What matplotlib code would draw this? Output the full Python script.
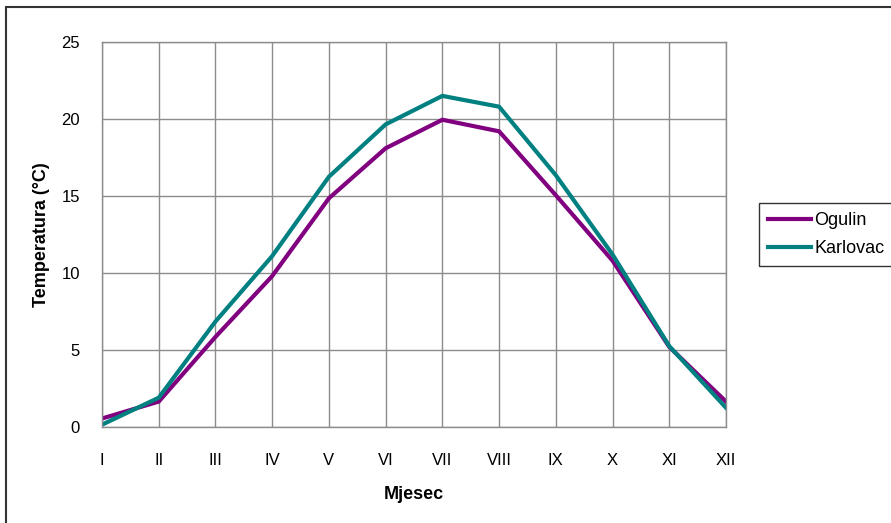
#!/usr/bin/env python3
"""Monthly mean air temperature, Ogulin vs Karlovac."""

import matplotlib
matplotlib.use("Agg")
import matplotlib.pyplot as plt
from matplotlib.patches import Rectangle

months = ["I", "II", "III", "IV", "V", "VI", "VII", "VIII", "IX", "X", "XI", "XII"]
ogulin = [0.55, 1.65, 5.85, 9.8, 14.85, 18.1, 19.95, 19.2, 15.05, 10.8, 5.2, 1.65]
karlovac = [0.15, 1.9, 6.85, 11.1, 16.25, 19.65, 21.5, 20.8, 16.35, 11.2, 5.25, 1.25]
y_ticks = [0, 5, 10, 15, 20, 25]

plt.rcParams["font.family"] = ["Liberation Sans", "DejaVu Sans"]

fig = plt.figure(figsize=(8.91, 5.23), dpi=100)
ax = fig.add_axes([0.1145, 0.1836, 0.7003, 0.7361])

x = list(range(len(months)))
ax.plot(x, ogulin, color="#800080", linewidth=3, label="Ogulin", solid_joinstyle="miter")
ax.plot(x, karlovac, color="#008080", linewidth=3, label="Karlovac", solid_joinstyle="miter")

ax.set_xlim(0, len(months) - 1)
ax.set_ylim(0, 25)
ax.set_xticks(x)
ax.set_xticklabels(months)
ax.set_yticks(y_ticks)
ax.tick_params(length=0, labelsize=12, colors="black")
ax.tick_params(axis="x", pad=19)
ax.tick_params(axis="y", pad=16)
ax.grid(True, color="#8c8c8c", linewidth=1)
ax.set_axisbelow(True)
for spine in ax.spines.values():
    spine.set_color("#8c8c8c")
    spine.set_linewidth(1)

ax.set_xlabel("Mjesec", fontsize=13, fontweight="bold", labelpad=13)
ax.set_ylabel("Temperatura (°C)", fontsize=13, fontweight="bold", labelpad=8)

leg = fig.legend(loc="upper left", bbox_to_anchor=(759 / 891, 1 - 203 / 523),
                 fontsize=13, frameon=True, fancybox=False, handlelength=2.4,
                 handletextpad=0.15, borderpad=0.5, labelspacing=0.62,
                 borderaxespad=0)
leg.get_frame().set_edgecolor("black")
leg.get_frame().set_linewidth(1)

# outer chart border (bottom and right edges fall outside the image)
fig.patches.append(Rectangle((6 / 891, -10 / 523), 895 / 891, 526 / 523,
                             transform=fig.transFigure, fill=False,
                             edgecolor="#333333", linewidth=1.5))

fig.savefig("out.png", dpi=100)
